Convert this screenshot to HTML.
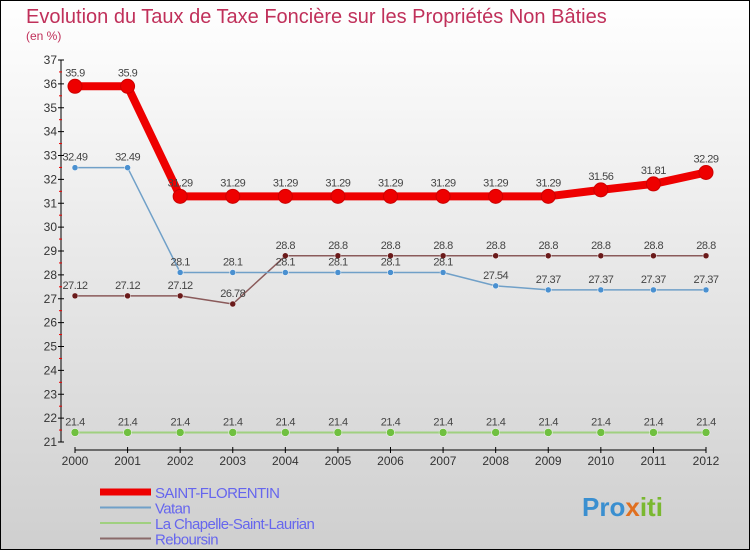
<!DOCTYPE html>
<html><head><meta charset="utf-8"><style>
body{margin:0;width:750px;height:550px;overflow:hidden;font-family:"Liberation Sans",sans-serif}
</style></head><body>
<svg id="c" width="750" height="550" xmlns="http://www.w3.org/2000/svg">
<defs><linearGradient id="bg" x1="0" y1="0" x2="0" y2="1"><stop offset="0" stop-color="#ffffff"/><stop offset="1" stop-color="#cfcfcf"/></linearGradient></defs>
<rect x="0.5" y="0.5" width="749" height="549" fill="url(#bg)" stroke="#000"/>
<text x="26" y="23" font-size="20" fill="#c0305a">Evolution du Taux de Taxe Foncière sur les Propriétés Non Bâties</text>
<text x="26" y="40" font-size="12" fill="#c0305a">(en %)</text>
<g id="axes"></g><g id="series"></g><g id="legend"></g>
<text x="582" y="516" font-size="26" font-weight="bold" fill="#3a8fd0">Pro<tspan fill="#e07020">x</tspan><tspan fill="#7ab830">iti</tspan></text>
</svg>
<script>
const years=[2000,2001,2002,2003,2004,2005,2006,2007,2008,2009,2010,2011,2012];
const stFlorentin=[35.9,35.9,31.29,31.29,31.29,31.29,31.29,31.29,31.29,31.29,31.56,31.81,32.29];
const vatan=[32.49,32.49,28.1,28.1,28.1,28.1,28.1,28.1,27.54,27.37,27.37,27.37,27.37];
const chapelle=[21.4,21.4,21.4,21.4,21.4,21.4,21.4,21.4,21.4,21.4,21.4,21.4,21.4];
const reboursin=[27.12,27.12,27.12,26.78,28.8,28.8,28.8,28.8,28.8,28.8,28.8,28.8,28.8];
const yTicks=[21,22,23,24,25,26,27,28,29,30,31,32,33,34,35,36,37];
const NS="http://www.w3.org/2000/svg";
const x=i=>75+i*(706-75)/(years.length-1);
const y=v=>442-(v-21)*(442-60)/16;
function mk(t,a,p){const e=document.createElementNS(NS,t);for(const k in a)e.setAttribute(k,a[k]);p.appendChild(e);return e;}
const ax=document.getElementById('axes');
const yl=mk('line',{x1:61,y1:60,x2:61,y2:442,stroke:'#000'},ax);


yTicks.forEach(v=>{
 mk('line',{x1:58,x2:64,y1:y(v),y2:y(v),stroke:'#000'},ax);
 if(v<37)mk('line',{x1:59,x2:62,y1:y(v+0.5),y2:y(v+0.5),stroke:'#e00'},ax);
 const t=mk('text',{x:57,y:y(v)+4,'font-size':12,'text-anchor':'end',fill:'#333'},ax);t.textContent=v;
 
 
});
const xl=mk('line',{x1:x(0),y1:450,x2:x(years.length-1),y2:450,stroke:'#000'},ax);


years.forEach((yr,i)=>{
 mk('line',{x1:x(i),x2:x(i),y1:447,y2:453,stroke:'#000'},ax);
 const t=mk('text',{x:x(i),y:465,'font-size':12,'text-anchor':'middle',fill:'#333'},ax);t.textContent=yr;
 
 
});
const sg=document.getElementById('series');
const series=[
 {n:'reboursin',d:reboursin,c:'#8a5a5a',w:1.5,r:3,f:'#6a1a1a'},
 {n:'la-chapelle',d:chapelle,c:'#a0d080',w:2,r:4,f:'#70c040'},
 {n:'vatan',d:vatan,c:'#70a0c8',w:1.5,r:3,f:'#4a90d0'},
 {n:'saint-florentin',d:stFlorentin,c:'#ee0000',w:8,r:7,f:'#ee0000'}
];
series.forEach(s=>{
 const g=mk('g',{},sg);
 
 
 const p=mk('polyline',{points:s.d.map((v,i)=>x(i)+','+y(v)).join(' '),fill:'none',stroke:s.c,'stroke-width':s.w,'stroke-linejoin':'round'},g);
 
 
 s.d.forEach((v,i)=>{
  const c=mk('circle',{cx:x(i),cy:y(v),r:s.r,fill:s.f,stroke:s.n==='saint-florentin'?'#c00':'#fff','stroke-width':s.n==='saint-florentin'?1:0.5},g);
  
  
  const t=mk('text',{x:x(i),y:y(v)-(s.n==='saint-florentin'?10:7),'font-size':11,'text-anchor':'middle',fill:'#444','letter-spacing':'-0.5'},g);
  t.textContent=v;
  
  
 });
});
const lg=document.getElementById('legend');
const leg=[['SAINT-FLORENTIN','#ee0000',7],['Vatan','#70a0c8',2],['La Chapelle-Saint-Laurian','#a0d080',2],['Reboursin','#8a6a6a',2]];
leg.forEach((l,i)=>{
 const g=mk('g',{},lg);
 
 
 const yy=492+i*15.5;
 mk('line',{x1:100,x2:151,y1:yy,y2:yy,stroke:l[1],'stroke-width':l[2]},g);
 const t=mk('text',{x:155,y:yy+6,'font-size':15,fill:'#6666ee','letter-spacing':'-0.6'},g);t.textContent=l[0];
});
</script>
</body></html>
